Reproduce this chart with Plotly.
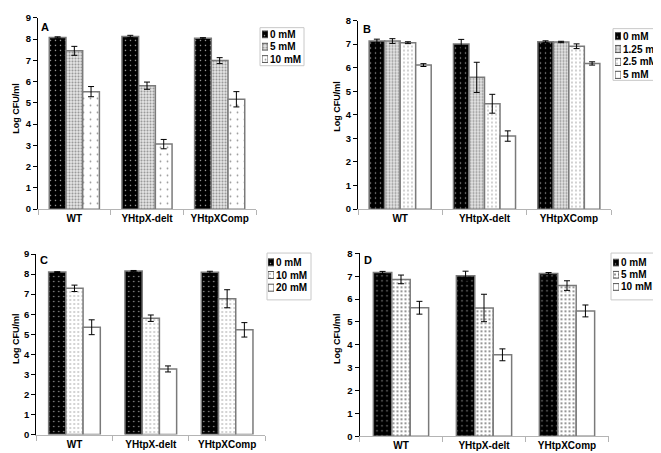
import plotly.graph_objects as go

W, H = 661, 453
FONT = "Liberation Sans, Arial, sans-serif"

categories = ["WT", "YHtpX-delt", "YHtpXComp"]

# Panel A
a_series = ["0 mM", "5 mM", "10 mM"]
a_0 = [8.08, 8.13, 8.04]
a_0_err = [0.03, 0.05, 0.03]
a_5 = [7.45, 5.81, 6.99]
a_5_err = [0.21, 0.17, 0.14]
a_10 = [5.53, 3.06, 5.17]
a_10_err = [0.24, 0.22, 0.36]

# Panel B
b_series = ["0 mM", "1.25 mM", "2.5 mM", "5 mM"]
b_0 = [7.13, 7.00, 7.10]
b_0_err = [0.08, 0.20, 0.04]
b_125 = [7.13, 5.59, 7.09]
b_125_err = [0.10, 0.64, 0.03]
b_25 = [7.06, 4.47, 6.91]
b_25_err = [0.04, 0.40, 0.10]
b_5 = [6.11, 3.10, 6.18]
b_5_err = [0.06, 0.22, 0.07]

# Panel C
c_series = ["0 mM", "10 mM", "20 mM"]
c_0 = [8.10, 8.15, 8.09]
c_0_err = [0.02, 0.03, 0.05]
c_10 = [7.29, 5.80, 6.77]
c_10_err = [0.16, 0.16, 0.45]
c_20 = [5.35, 3.27, 5.22]
c_20_err = [0.37, 0.15, 0.36]

# Panel D
d_series = ["0 mM", "5 mM", "10 mM"]
d_0 = [7.16, 7.02, 7.12]
d_0_err = [0.05, 0.20, 0.04]
d_5 = [6.86, 5.61, 6.59]
d_5_err = [0.19, 0.60, 0.21]
d_10 = [5.62, 3.56, 5.48]
d_10_err = [0.28, 0.26, 0.26]

# ---- styles ----
P_BLACK = dict(shape=".", bgcolor="#000000", fgcolor="#a0a0a0", size=5, solidity=0.07)
P_GRAY = dict(shape=".", bgcolor="#e8e8e8", fgcolor="#959595", size=3, solidity=0.4)
P_SPARSE = dict(shape=".", bgcolor="#ffffff", fgcolor="#9a9a9a", size=7, solidity=0.05)
P_DENSE = dict(shape=".", bgcolor="#ffffff", fgcolor="#8a8a8a", size=4, solidity=0.1)
P_DENSE_DARK = dict(shape=".", bgcolor="#ffffff", fgcolor="#666666", size=4, solidity=0.16)
P_WHITE = dict(shape="", bgcolor="#ffffff")

panels = [
    dict(key="A", xa="x", ya="y", series=a_series,
         vals=[a_0, a_5, a_10], errs=[a_0_err, a_5_err, a_10_err],
         pats=[P_BLACK, P_GRAY, P_SPARSE], ymax=9, group=0.69,
         xpx=(30, 248), ypx=(200, 4), title=(8, 97), letter=(37, 13),
         lbox=(252, 296, 14, 53), lsw=(254, 260), ldom=(14.5, 52.5),
         lxa="x5", lya="y5"),
    dict(key="B", xa="x2", ya="y2", series=b_series,
         vals=[b_0, b_125, b_25, b_5], errs=[b_0_err, b_125_err, b_25_err, b_5_err],
         pats=[P_BLACK, P_GRAY, P_DENSE, P_WHITE], ymax=8, group=0.736,
         xpx=(350, 603), ypx=(200, 6.7), title=(329, 95), letter=(359, 15),
         lbox=(605, 656, 15, 68), lsw=(607, 613), ldom=(16, 69),
         lxa="x6", lya="y6"),
    dict(key="C", xa="x3", ya="y3", series=c_series,
         vals=[c_0, c_10, c_20], errs=[c_0_err, c_10_err, c_20_err],
         pats=[P_BLACK, P_DENSE, P_WHITE], ymax=9, group=0.677,
         xpx=(28.3, 257.3), ypx=(431, 246), title=(8, 333), letter=(36, 252),
         lbox=(259, 303, 245, 293), lsw=(260, 266), ldom=(248, 287),
         lxa="x7", lya="y7"),
    dict(key="D", xa="x4", ya="y4", series=d_series,
         vals=[d_0, d_5, d_10], errs=[d_0_err, d_5_err, d_10_err],
         pats=[P_BLACK, P_DENSE_DARK, P_WHITE], ymax=8, group=0.666,
         xpx=(351.5, 600.5), ypx=(432.7, 245.3), title=(329, 333), letter=(360, 252),
         lbox=(603, 649, 245, 293), lsw=(605, 611), ldom=(248.5, 286),
         lxa="x8", lya="y8"),
]


def fx(px):
    return px / W


def fy(py):
    return 1 - py / H


fig = go.Figure()
layout = dict(
    width=W, height=H, margin=dict(l=0, r=0, t=0, b=0),
    paper_bgcolor="white", plot_bgcolor="white",
    barmode="overlay", showlegend=False,
    font=dict(family=FONT, size=10, color="black"),
    annotations=[], shapes=[],
)

for p in panels:
    n = len(p["series"])
    bw = p["group"] / n
    for i, (name, vals, errs, pat) in enumerate(zip(p["series"], p["vals"], p["errs"], p["pats"])):
        fig.add_trace(go.Bar(
            x=categories, y=vals, name=name,
            xaxis=p["xa"], yaxis=p["ya"],
            width=bw, offset=-p["group"] / 2 + i * bw,
            marker=dict(color=pat["bgcolor"], pattern=dict(fillmode="replace", **pat),
                        line=dict(color="#7a7a7a", width=1.5)),
            error_y=dict(type="data", array=errs, visible=True, color="black",
                         thickness=1, width=3),
        ))
        # legend swatch
        fig.add_trace(go.Bar(
            x=[1], y=[name], orientation="h", width=0.55,
            xaxis=p["lxa"], yaxis=p["lya"],
            marker=dict(color=pat["bgcolor"], pattern=dict(fillmode="replace", **pat),
                        line=dict(color="#555555", width=1)),
        ))

    xk = "xaxis" + p["xa"][1:]
    yk = "yaxis" + p["ya"][1:]
    layout[xk] = dict(
        domain=[fx(p["xpx"][0]), fx(p["xpx"][1])], anchor=p["ya"],
        type="category", range=[-0.5, 2.5],
        showline=True, linecolor="#b4b4b4", linewidth=1,
        ticks="outside", tickson="boundaries", ticklen=5, tickcolor="#b4b4b4",
        tickfont=dict(family=FONT, size=10, weight="bold"),
        showgrid=False, zeroline=False, fixedrange=True,
    )
    layout[yk] = dict(
        domain=[fy(p["ypx"][0]), fy(p["ypx"][1])], anchor=p["xa"],
        range=[0, p["ymax"]], dtick=1, tick0=0,
        showline=True, linecolor="black", linewidth=1,
        ticks="outside", ticklen=4, tickcolor="black",
        tickfont=dict(family=FONT, size=9.5, weight="bold"),
        showgrid=False, zeroline=False, fixedrange=True,
    )
    # legend axes
    lxk = "xaxis" + p["lxa"][1:]
    lyk = "yaxis" + p["lya"][1:]
    layout[lxk] = dict(domain=[fx(p["lsw"][0]), fx(p["lsw"][1])], anchor=p["lya"],
                       range=[0, 1], visible=False, fixedrange=True)
    layout[lyk] = dict(domain=[fy(p["ldom"][1]), fy(p["ldom"][0])], anchor=p["lxa"],
                       type="category", autorange="reversed", side="right",
                       showline=False, showgrid=False, zeroline=False, ticks="",
                       ticklabelstandoff=1,
                       tickfont=dict(family=FONT, size=10, weight="bold"),
                       fixedrange=True)
    bx0, bx1, by0, by1 = p["lbox"]
    layout["shapes"].append(dict(type="rect", xref="paper", yref="paper",
                                 x0=fx(bx0), x1=fx(bx1), y0=fy(by1), y1=fy(by0),
                                 line=dict(color="#c8c8c8", width=1),
                                 fillcolor="rgba(0,0,0,0)", layer="below"))
    layout["annotations"].append(dict(
        text="Log CFU/ml", xref="paper", yref="paper",
        x=fx(p["title"][0]), y=fy(p["title"][1]), xanchor="center", yanchor="middle",
        textangle=-90, showarrow=False,
        font=dict(family=FONT, size=9, weight="bold")))
    layout["annotations"].append(dict(
        text=p["key"], xref="paper", yref="paper",
        x=fx(p["letter"][0]), y=fy(p["letter"][1]), xanchor="center", yanchor="middle",
        showarrow=False, font=dict(family=FONT, size=11, weight="bold")))

fig.update_layout(**layout)
fig.write_html("out.html")
